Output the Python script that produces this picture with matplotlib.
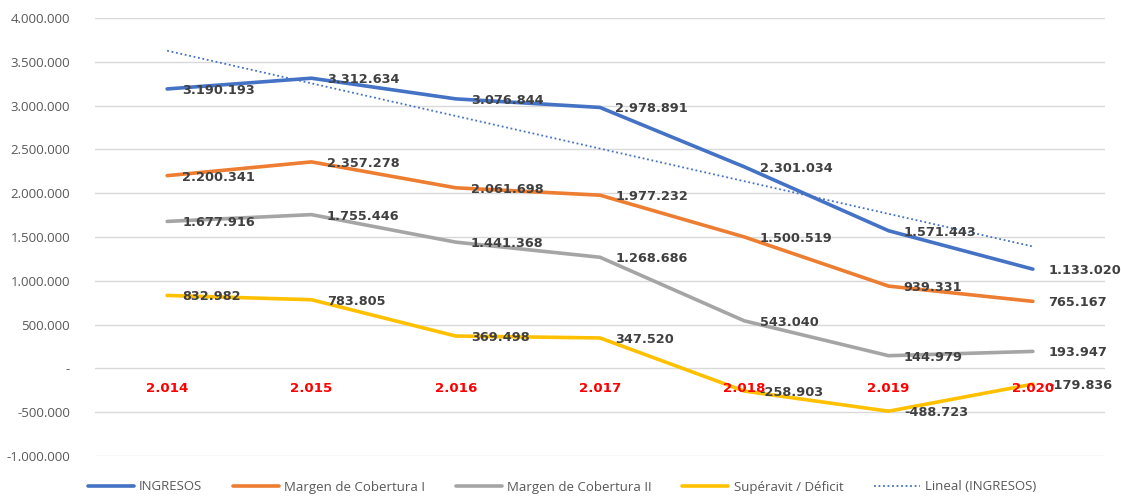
import matplotlib
matplotlib.use('Agg')
import matplotlib.pyplot as plt
import numpy as np

plt.rcParams['font.family'] = ['Open Sans', 'DejaVu Sans']

# datos
anios = ['2.014', '2.015', '2.016', '2.017', '2.018', '2.019', '2.020']
ingresos = [3190193, 3312634, 3076844, 2978891, 2301034, 1571443, 1133020]
margen_1 = [2200341, 2357278, 2061698, 1977232, 1500519, 939331, 765167]
margen_2 = [1677916, 1755446, 1441368, 1268686, 543040, 144979, 193947]
superavit = [832982, 783805, 369498, 347520, -258903, -488723, -179836]
y_ticks = [4000000, 3500000, 3000000, 2500000, 2000000, 1500000, 1000000,
           500000, 0, -500000, -1000000]


def fmt(v):
    if v == 0:
        return '-'
    s = f'{abs(v):,}'.replace(',', '.')
    return ('-' if v < 0 else '') + s


series = [
    ('INGRESOS', ingresos, '#4472C4'),
    ('Margen de Cobertura I', margen_1, '#ED7D31'),
    ('Margen de Cobertura II', margen_2, '#A5A5A5'),
    ('Supéravit / Déficit', superavit, '#FFC000'),
]

fig = plt.figure(figsize=(11.21, 4.97), dpi=100)
ax = fig.add_axes([95 / 1121, 1 - 456 / 497, 1010 / 1121, 438 / 497])

x = np.arange(len(anios))
for nombre, vals, color in series:
    ax.plot(x, vals, color=color, lw=2.6, label=nombre, solid_capstyle='round',
            solid_joinstyle='round', zorder=3)

# tendencia lineal de ingresos
coef = np.polyfit(x, ingresos, 1)
ax.plot(x, np.polyval(coef, x), color='#4472C4', lw=1.3, ls=(0, (1, 1.5)),
        label='Lineal (INGRESOS)', zorder=2)

# etiquetas de datos
for nombre, vals, color in series:
    for xi, v in zip(x, vals):
        ax.annotate(fmt(v), (xi, v), xytext=(11, -1), textcoords='offset points',
                    ha='left', va='center', fontsize=9.3, fontweight='bold',
                    color='#404040', family='DejaVu Sans', zorder=4)

# etiquetas de categoría sobre el eje cero
for xi, a in zip(x, anios):
    ax.annotate(a, (xi, 0), xytext=(0, -14.5), textcoords='offset points',
                ha='center', va='center', fontsize=9.6, fontweight='bold',
                color='#FF0000', family='DejaVu Sans', zorder=5)

ax.set_xlim(-0.5, 6.5)
ax.set_ylim(-1000000, 4000000)
ax.set_yticks(y_ticks)
ax.set_yticklabels([fmt(v) for v in y_ticks])
ax.set_xticks([])
ax.tick_params(axis='y', length=0, pad=18, labelsize=9.5, labelcolor='#595959')
ax.grid(axis='y', color='#D9D9D9', lw=1)
ax.set_axisbelow(True)
for s in ax.spines.values():
    s.set_visible(False)

fig.legend(loc='center', bbox_to_anchor=(562 / 1121, 1 - 487 / 497), ncol=5,
           frameon=False, fontsize=9.5, labelcolor='#595959', handlelength=3.5,
           columnspacing=2.3, handletextpad=0.4)

fig.savefig('out.png', dpi=100)
